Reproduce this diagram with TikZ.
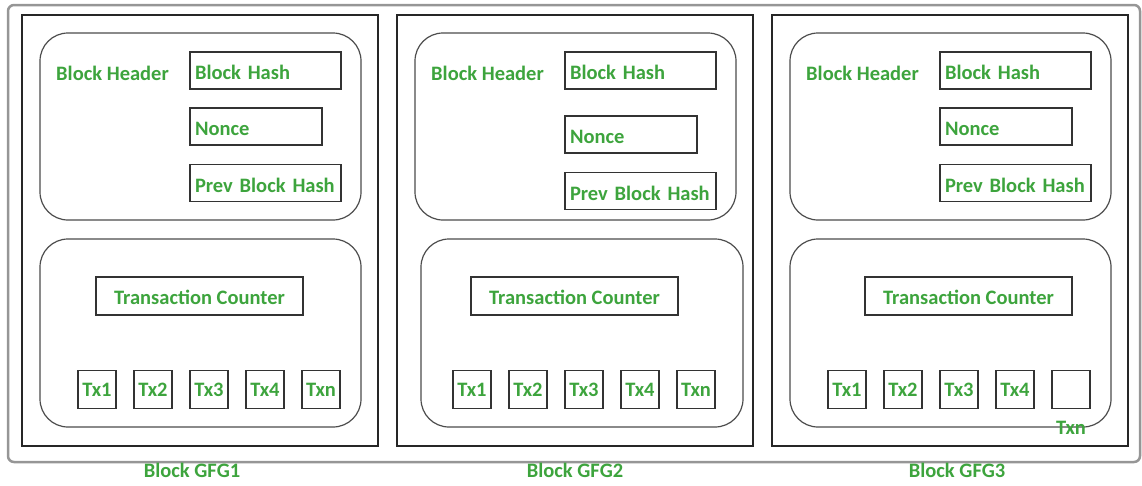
\documentclass[tikz,border=0pt]{standalone}
\usepackage{fontspec}
\setmainfont{Carlito}
\usetikzlibrary{positioning}
\definecolor{gfggreen}{RGB}{61,164,61}
\definecolor{framegray}{RGB}{150,150,150}
\tikzset{
  every node/.style={text=gfggreen,font=\fontsize{20.5}{25}\selectfont\bfseries},
  field/.style={draw=black!80,line width=1.3pt,minimum height=37pt,inner xsep=5pt,inner ysep=0pt,align=left,text width=#1,text height=18pt,text depth=0pt},
  txbox/.style={draw=black!80,line width=1.3pt,minimum size=38pt,inner sep=0pt},
  part/.style={draw=black!70,line width=1.2pt,rounded corners=28pt},
  blockframe/.style={draw=black!85,line width=1.5pt}
}
\begin{document}
\begin{tikzpicture}[x=1pt,y=-1pt]
  \useasboundingbox (0,0) rectangle (1142,485);
  \draw[framegray,line width=2.5pt,rounded corners=6pt] (8,5) rectangle (1140,462);
  \foreach \ox/\ny/\tl/\tr/\cx/\gx/\nm/\last in {0/0/40/361/199.5/192/1/Txn, 375/8/46/368/199.5/200/2/Txn, 750/0/40/361/218.5/207/3/{}}{
    \begin{scope}[xshift=\ox]
      \draw[blockframe] (22,15) rectangle (378,446);
      \draw[part] (40,33) rectangle (361,220);
      \draw[part] (\tl,239) rectangle (\tr,427);
      \node (head\nm) at (112.5,73) {Block Header};
      \node[field=141pt] (hash\nm) at (265.5,70.5) {Block Hash};
      \node[field=122pt] (nonce\nm) at (256,126.5+\ny) {Nonce};
      \node[field=141pt] (prev\nm) at (265.5,183+\ny) {\mbox{Prev Block Hash}};
      \node[draw=black!80,line width=1.3pt,minimum width=207pt,minimum height=38pt,inner sep=0pt,text height=17pt,text depth=0pt] (count\nm) at (\cx,296) {Transaction Counter};
      \foreach \k/\t in {0/Tx1,1/Tx2,2/Tx3,3/Tx4}
        \node[txbox] (tx\nm-\k) at (97+56*\k,389.5) {\t};
      \node[txbox] (tx\nm-4) at (321,389.5) {\last};
      \node (name\nm) at (\gx,470) {Block GFG\nm};
    \end{scope}
  }
  \node[below=12pt of tx3-4,inner sep=0pt] (txnlabel) {Txn};
\end{tikzpicture}
\end{document}
